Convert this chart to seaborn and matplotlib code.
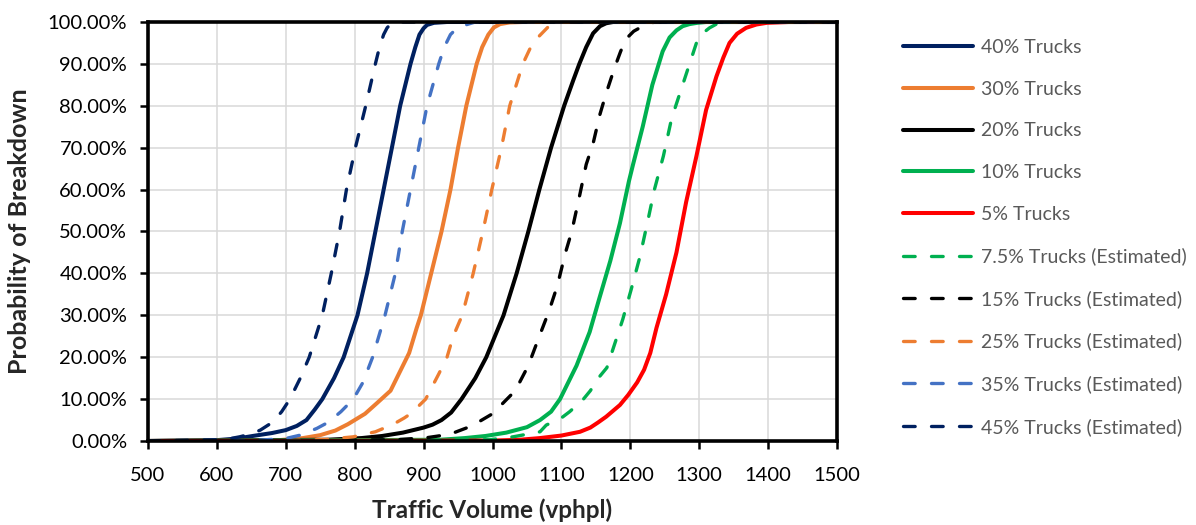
import matplotlib
matplotlib.use("Agg")
import matplotlib.pyplot as plt
from matplotlib.ticker import MultipleLocator, FuncFormatter
import seaborn as sns
import pandas as pd

# Breakdown probability curves (traffic volume in vphpl, probability in %)
vol_40 = [500, 600, 630, 652, 680, 700, 716, 730, 742, 753, 770, 784, 804, 818, 830, 842, 854, 866, 881, 888, 894, 900, 905, 915, 934, 1500]
p_40 = [0, 0.2, 0.6, 1.2, 1.9, 2.6, 3.6, 5, 7.5, 10, 15, 20, 30, 40, 50, 60, 70, 80, 90, 94, 97, 98.5, 99.3, 99.8, 100, 100]

vol_30 = [500, 690, 725, 750, 772, 790, 815, 832, 852, 867, 879, 890, 896, 911, 926, 939, 950, 962, 977, 985, 994, 1002, 1011, 1025, 1044, 1500]
p_30 = [0, 0.2, 0.7, 1.4, 2.5, 4, 6.5, 9, 12, 17, 21, 27, 30, 40, 50, 60, 70, 80, 90, 94, 97, 98.7, 99.5, 99.9, 100, 100]

vol_20 = [500, 760, 810, 840, 870, 900, 913, 926, 940, 955, 975, 991, 1016, 1035, 1052, 1068, 1085, 1104, 1117, 1126, 1136, 1146, 1156, 1165, 1175, 1500]
p_20 = [0, 0.3, 0.7, 1.2, 2, 3.2, 3.9, 5, 6.8, 10, 15, 20, 30, 40, 50, 60, 70, 80, 86, 90, 94, 97.3, 99, 99.7, 100, 100]

vol_10 = [500, 924, 960, 990, 1020, 1050, 1069, 1085, 1098, 1122, 1141, 1155, 1171, 1185, 1198, 1204, 1218, 1232, 1247, 1257, 1267, 1276, 1286, 1297, 1310, 1500]
p_10 = [0, 0.3, 0.7, 1.2, 2.0, 3.3, 5, 7, 10, 18, 26, 34, 43, 52, 62, 66, 75, 85, 93, 96.3, 98, 99, 99.5, 99.8, 100, 100]

vol_5 = [500, 1000, 1040, 1069, 1100, 1127, 1142, 1153, 1165, 1185, 1197, 1210, 1220, 1229, 1238, 1252, 1267, 1281, 1296, 1310, 1325, 1335, 1344, 1355, 1368, 1383, 1398, 1430, 1500]
p_5 = [0, 0.1, 0.3, 0.7, 1.3, 2.2, 3.2, 4.4, 5.8, 8.6, 11, 14, 17, 21, 27, 35, 45, 57, 68, 79, 87, 91.5, 95, 97.2, 98.6, 99.4, 99.8, 100, 100]

vol_7_5 = [500, 996, 1030, 1069, 1078, 1100, 1112, 1131, 1142, 1156, 1166, 1175, 1189, 1201, 1214, 1226, 1235, 1248, 1260, 1272, 1284, 1296, 1305, 1315, 1325, 1335, 1500]
p_7_5 = [0, 0.3, 1, 2.2, 3.8, 5.5, 7, 9.8, 12, 15.5, 17.5, 22, 29, 36, 44, 53, 60, 68, 77, 83, 89, 95, 97.3, 98.6, 99.5, 100, 100]

vol_15 = [500, 860, 905, 938, 970, 1000, 1015, 1033, 1052, 1068, 1082, 1094, 1106, 1115, 1127, 1136, 1146, 1156, 1165, 1177, 1186, 1194, 1205, 1218, 1235, 1500]
p_15 = [0, 0.3, 0.8, 1.6, 3.6, 6.5, 9, 12, 18, 25, 31, 37, 45, 50, 59, 66, 71, 78, 83, 89, 93, 96, 97.8, 99, 100, 100]

vol_25 = [500, 700, 760, 798, 830, 856, 872, 882, 903, 922, 934, 943, 956, 972, 986, 999, 1013, 1025, 1044, 1054, 1064, 1080, 1098, 1500]
p_25 = [0, 0.1, 0.4, 1, 2.2, 4, 5.5, 6.6, 10, 16, 20, 25, 30, 40, 50, 60, 70, 80, 90, 93.5, 96, 98.7, 100, 100]

vol_35 = [500, 652, 700, 721, 745, 762, 780, 798, 812, 826, 844, 859, 869, 881, 893, 905, 922, 930, 939, 947, 955, 975, 1500]
p_35 = [0, 0.1, 0.6, 1.4, 3, 4.5, 7, 10, 14, 20, 30, 40, 50, 60, 70, 80, 90, 94, 97, 98.3, 99, 100, 100]

vol_45 = [500, 600, 620, 633, 650, 663, 681, 694, 706, 721, 734, 753, 766, 778, 788, 801, 816, 830, 836, 842, 847, 852, 860, 1500]
p_45 = [0, 0.3, 0.6, 1, 1.7, 2.6, 4.5, 7, 10, 15, 20, 30, 40, 50, 60, 70, 80, 90, 94, 97, 98.6, 99.5, 100, 100]

labels = ["40% Trucks", "30% Trucks", "20% Trucks", "10% Trucks", "5% Trucks",
          "7.5% Trucks (Estimated)", "15% Trucks (Estimated)", "25% Trucks (Estimated)",
          "35% Trucks (Estimated)", "45% Trucks (Estimated)"]
volumes = [vol_40, vol_30, vol_20, vol_10, vol_5, vol_7_5, vol_15, vol_25, vol_35, vol_45]
probs = [p_40, p_30, p_20, p_10, p_5, p_7_5, p_15, p_25, p_35, p_45]
colors = ["#002060", "#ED7D31", "#000000", "#00B050", "#FF0000",
          "#00B050", "#000000", "#ED7D31", "#4472C4", "#002060"]
estimated = [False] * 5 + [True] * 5

sns.set_theme(style="white")
plt.rcParams["font.family"] = ["Lato", "DejaVu Sans"]

W, H = 1196, 525
fig = plt.figure(figsize=(W / 100, H / 100), dpi=100)
ax = fig.add_axes([148 / W, 84 / H, 689 / W, 419 / H])

for lab, xs, ys, col, est in zip(labels, volumes, probs, colors, estimated):
    df = pd.DataFrame({"vol": xs, "prob": ys})
    if est:
        sns.lineplot(data=df, x="vol", y="prob", ax=ax, color=col, label=lab,
                     sort=False, estimator=None, linewidth=2.4,
                     linestyle=(0, (3.5, 4.9)), dash_capstyle="round",
                     dash_joinstyle="round")
    else:
        sns.lineplot(data=df, x="vol", y="prob", ax=ax, color=col, label=lab,
                     sort=False, estimator=None, linewidth=2.9,
                     solid_capstyle="round", solid_joinstyle="round")

ax.set_xlim(500, 1500)
ax.set_ylim(0, 100)
ax.xaxis.set_major_locator(MultipleLocator(100))
ax.yaxis.set_major_locator(MultipleLocator(10))
ax.yaxis.set_major_formatter(FuncFormatter(lambda v, _: f"{v:.2f}%"))

ax.grid(True, color="#d9d9d9", linewidth=1.1)
ax.set_axisbelow(True)
for sp in ax.spines.values():
    sp.set_visible(True)
    sp.set_color("black")
    sp.set_linewidth(2.6)

ax.tick_params(axis="both", which="major", direction="out", length=6, width=1.8,
               color="black", labelsize=14.5, labelcolor="black")
ax.tick_params(axis="y", pad=9)
ax.tick_params(axis="x", pad=13)
ax.tick_params(left=True, bottom=True)

ax.set_xlabel("Traffic Volume (vphpl)", fontsize=17.5, fontweight="bold", labelpad=10)
ax.set_ylabel("Probability of Breakdown", fontsize=18, fontweight="bold", labelpad=12)

leg = ax.legend(loc="upper left", bbox_to_anchor=(903 / W, 1 - 39 / H),
                bbox_transform=fig.transFigure, frameon=False, fontsize=14,
                handlelength=3.6, handletextpad=0.4, labelspacing=1.27,
                borderpad=0, borderaxespad=0)
for t in leg.get_texts():
    t.set_color("#595959")

fig.savefig("out.png", dpi=100)
